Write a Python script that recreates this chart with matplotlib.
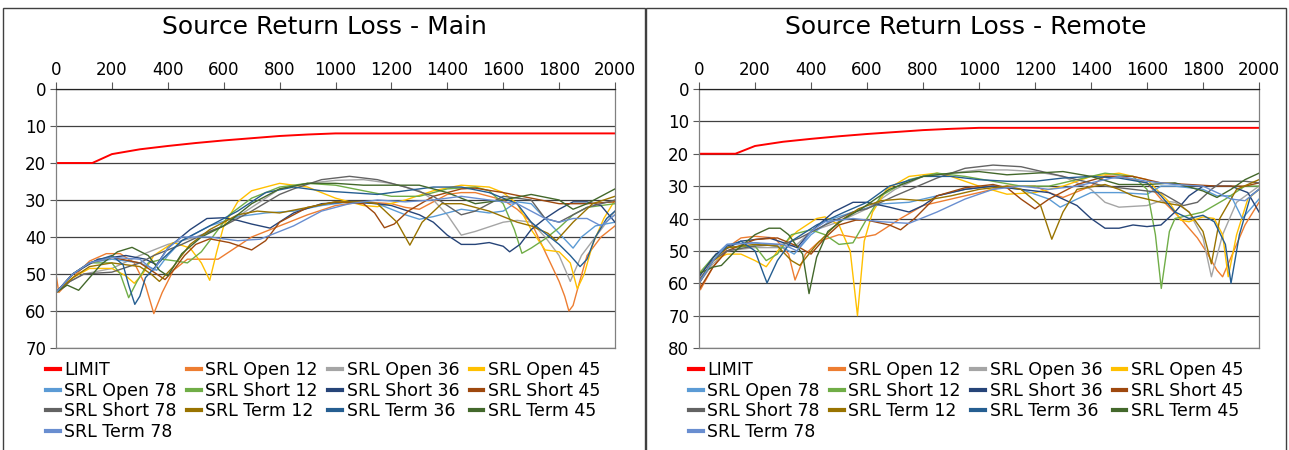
import matplotlib
matplotlib.use('Agg')
from matplotlib import pyplot as plt
from matplotlib.patches import Rectangle

# frequency (MHz), return loss (dB) pairs
LIMIT = [(0, 20), (130, 20), (200, 17.6), (300, 16.3), (400, 15.4), (500, 14.6), (600, 13.9),
         (700, 13.3), (800, 12.7), (900, 12.3), (1000, 12), (2000, 12)]

# ---- Main ----
M_OPEN12 = [(0, 50), (10, 55), (60, 51), (120, 46.5), (180, 44.5), (230, 44.5), (280, 47), (320, 53),
            (350, 60.7), (380, 55), (420, 49), (470, 46), (520, 46), (580, 46), (640, 43), (700, 40),
            (800, 37), (900, 34), (1000, 31.5), (1100, 30.5), (1200, 31), (1250, 32), (1300, 32.5),
            (1350, 30.5), (1400, 28.5), (1450, 28), (1500, 28), (1600, 30), (1650, 32.5), (1700, 36),
            (1750, 44), (1800, 52), (1820, 56), (1835, 60), (1850, 58.5), (1870, 53), (1900, 45),
            (1950, 40), (2000, 37)]
M_OPEN36 = [(0, 55), (50, 52), (100, 50), (200, 48.5), (300, 45), (400, 42), (500, 40), (600, 37),
            (700, 32), (800, 27), (900, 25.5), (1000, 24.7), (1100, 24.5), (1200, 25.5), (1300, 27.5),
            (1350, 30), (1400, 34), (1450, 39.5), (1500, 38.5), (1600, 36), (1650, 35.5), (1700, 36),
            (1750, 40), (1800, 45), (1840, 52), (1880, 45), (1950, 38), (2000, 33)]
M_OPEN45 = [(0, 55), (60, 51), (120, 48.5), (200, 48.5), (250, 50.5), (280, 52.5), (310, 50), (350, 45),
            (420, 41.5), (480, 43), (520, 47), (550, 51.7), (575, 44), (600, 37), (650, 30.5), (700, 27.5),
            (800, 25.5), (900, 26.5), (1000, 29.5), (1100, 31.5), (1150, 31.8), (1250, 30), (1350, 27.5),
            (1450, 26), (1550, 26.5), (1600, 28), (1650, 31), (1700, 38), (1750, 43.5), (1800, 44),
            (1840, 47), (1865, 54), (1890, 50), (1920, 42), (1960, 35), (2000, 30)]
M_OPEN78 = [(0, 55), (60, 50), (120, 47), (200, 46), (300, 47), (360, 49), (400, 45), (450, 41),
            (550, 37), (650, 34.5), (750, 33.5), (850, 33), (950, 31.5), (1050, 30.5), (1150, 31),
            (1250, 34), (1300, 35.2), (1350, 34.5), (1400, 33.5), (1450, 32.5), (1550, 33.5), (1600, 33),
            (1650, 30.5), (1700, 31), (1750, 35), (1800, 39), (1850, 43), (1880, 40), (1930, 37), (2000, 36)]
M_SHORT12 = [(0, 55), (60, 50), (120, 47), (200, 47), (230, 50), (260, 56.4), (290, 52), (330, 47),
             (380, 46), (430, 46.5), (470, 47), (520, 44), (570, 39), (620, 34), (700, 29.5), (800, 26.5),
             (900, 25.5), (1000, 26), (1100, 27.5), (1200, 29), (1300, 29), (1400, 27), (1500, 26.5),
             (1550, 27.5), (1600, 31), (1640, 38), (1667, 44.4), (1700, 43), (1750, 40.5), (1800, 37.5),
             (1850, 34), (1900, 32), (2000, 31)]
M_SHORT36 = [(0, 55), (60, 50), (150, 46), (250, 45), (320, 46), (360, 47.5), (400, 43), (480, 38),
             (540, 35), (600, 34.8), (650, 35.5), (700, 36.5), (766, 37.6), (850, 33.5), (950, 31),
             (1050, 30.5), (1150, 31), (1200, 31.5), (1300, 34), (1350, 36), (1400, 39.5), (1450, 42),
             (1500, 42), (1550, 41.5), (1600, 42.5), (1623, 44), (1660, 42), (1700, 38), (1750, 35),
             (1800, 32.5), (1850, 30.5), (1900, 30.5), (1950, 31.5), (2000, 36)]
M_SHORT45 = [(0, 55), (60, 50), (120, 47), (200, 45.5), (300, 47), (350, 49.5), (390, 51.5), (420, 49),
             (460, 45), (500, 42), (550, 40.5), (620, 41.5), (700, 43.5), (750, 41), (800, 36), (900, 32),
             (1000, 30.5), (1100, 31), (1140, 33.5), (1175, 37.5), (1210, 36.5), (1260, 33), (1350, 29),
             (1450, 27), (1500, 26.8), (1600, 28), (1700, 29.5), (1800, 31), (1900, 31), (2000, 30.5)]
M_SHORT78 = [(0, 55), (50, 52), (100, 50), (200, 49.5), (300, 47), (350, 45), (450, 42), (550, 38.5),
             (600, 37), (700, 33), (800, 28.5), (850, 27), (950, 24.5), (1050, 23.6), (1150, 24.5),
             (1250, 26.5), (1350, 29), (1400, 31.5), (1450, 34), (1500, 33), (1550, 31), (1600, 29),
             (1700, 30), (1750, 35), (1800, 36), (1850, 34), (1900, 32), (2000, 30)]
M_TERM12 = [(0, 55), (60, 51), (120, 48), (200, 47), (300, 48), (340, 50), (370, 52), (420, 48),
            (480, 42), (550, 38), (650, 34), (720, 33), (800, 33.5), (900, 32), (1000, 30.5), (1100, 30.5),
            (1150, 31), (1220, 36), (1266, 42.2), (1310, 36), (1380, 31), (1450, 31), (1500, 32),
            (1550, 33), (1650, 36), (1700, 37), (1760, 39), (1790, 41), (1850, 36), (1920, 31), (2000, 29)]
M_TERM36 = [(0, 55), (60, 50), (120, 47), (200, 45), (240, 47.5), (260, 53), (282, 58.2), (300, 56),
            (320, 51), (380, 46), (450, 41), (550, 37), (650, 33), (750, 28), (850, 26.5), (950, 27.5),
            (1050, 28), (1150, 28.5), (1250, 27.5), (1350, 26.5), (1450, 26.5), (1550, 28), (1650, 31),
            (1700, 36), (1750, 39), (1800, 42), (1840, 45), (1875, 48), (1900, 46), (1930, 40),
            (1970, 35), (2000, 33)]
M_TERM45 = [(0, 55), (40, 53), (81, 54.4), (120, 51), (160, 47.5), (220, 44), (272, 42.8), (330, 45),
            (370, 49), (400, 50.5), (450, 44.5), (520, 40), (600, 37), (700, 31), (800, 27), (900, 25.5),
            (1000, 25.5), (1100, 26), (1200, 26), (1300, 26), (1400, 28), (1500, 31), (1600, 30),
            (1700, 28.5), (1800, 30), (1850, 32.5), (1900, 31), (1950, 29), (2000, 27)]
M_TERM78 = [(0, 55), (60, 50), (120, 47), (200, 45.5), (300, 46), (350, 49), (400, 43), (450, 40),
            (550, 40), (650, 41), (730, 40.6), (850, 37), (950, 33), (1050, 31), (1150, 30), (1250, 30.5),
            (1350, 30), (1450, 29), (1550, 30), (1650, 31), (1750, 35), (1800, 36), (1850, 35),
            (1900, 35), (1950, 37), (2000, 34)]

# ---- Remote ----
R_OPEN12 = [(0, 51), (5, 62), (50, 55), (100, 49), (150, 46), (200, 45.5), (270, 46), (320, 51),
            (343, 59), (380, 51), (430, 47), (500, 45), (570, 46), (630, 45), (720, 40), (800, 36),
            (900, 34), (1000, 32), (1100, 30), (1200, 30), (1250, 32), (1300, 33.5), (1400, 30),
            (1450, 27), (1500, 27), (1600, 29), (1650, 34), (1720, 40), (1780, 46), (1810, 50),
            (1850, 56), (1870, 58), (1900, 52), (1950, 42), (2000, 35)]
R_OPEN36 = [(0, 60), (50, 54), (100, 50), (200, 49), (300, 49), (350, 48), (400, 44), (500, 41),
            (600, 37), (700, 31), (800, 27), (900, 26), (1000, 25), (1100, 25), (1200, 25.5), (1300, 27),
            (1400, 31), (1450, 35), (1500, 36.5), (1600, 36), (1650, 34.5), (1700, 35), (1750, 38),
            (1800, 46), (1830, 58), (1870, 45), (1920, 35), (2000, 30)]
R_OPEN45 = [(0, 57), (50, 53), (100, 51), (150, 51), (200, 53), (240, 54.9), (290, 49), (350, 44),
            (420, 40), (450, 39.5), (500, 42), (540, 50), (566, 70), (590, 47), (620, 38), (670, 31),
            (750, 27), (850, 26), (900, 27), (1000, 30), (1100, 32.5), (1200, 32), (1300, 30), (1400, 27),
            (1500, 26), (1600, 28), (1680, 35), (1720, 40.5), (1750, 41), (1800, 39.5), (1840, 40),
            (1870, 45), (1890, 58), (1920, 45), (1960, 34), (2000, 31)]
R_OPEN78 = [(0, 58), (50, 52), (100, 48), (200, 47.5), (300, 49), (340, 51), (400, 45), (480, 40),
            (550, 38), (650, 35.5), (750, 35), (850, 33), (950, 31), (1050, 30), (1150, 31), (1250, 34),
            (1290, 36.5), (1350, 34), (1400, 32), (1500, 32), (1600, 32.5), (1650, 30), (1700, 30),
            (1800, 31), (1850, 33), (1900, 33), (1940, 40), (2000, 34)]
R_SHORT12 = [(0, 57), (50, 52), (100, 49), (200, 48.5), (240, 53), (280, 51), (330, 45), (400, 43.5),
             (450, 45), (500, 48), (550, 47.5), (600, 40), (650, 33), (750, 28), (850, 26), (950, 27),
             (1050, 28.5), (1150, 30), (1250, 30), (1350, 28), (1450, 26), (1550, 27), (1600, 31),
             (1630, 45), (1651, 61.6), (1680, 44), (1700, 40), (1800, 38), (1880, 34), (1950, 30), (2000, 30)]
R_SHORT36 = [(0, 58), (60, 51), (150, 47), (250, 46), (320, 48), (350, 49), (400, 44), (480, 38),
             (550, 35), (600, 35), (680, 36.5), (750, 38), (800, 36), (850, 33), (950, 31), (1050, 30),
             (1150, 31), (1250, 32), (1350, 36), (1400, 40), (1450, 43), (1500, 43), (1550, 42),
             (1600, 42.5), (1650, 42), (1700, 38), (1750, 33), (1800, 30), (1900, 30), (1960, 32), (2000, 38)]
R_SHORT45 = [(0, 62), (50, 55), (100, 50), (200, 46.5), (280, 46), (350, 48.5), (400, 51), (450, 46),
             (500, 42), (560, 40.5), (600, 40.5), (680, 42), (720, 43.5), (770, 40), (850, 33), (950, 30.5),
             (1050, 29.5), (1100, 30.5), (1150, 34), (1200, 37), (1250, 34), (1350, 29.5), (1450, 27),
             (1550, 27), (1650, 29), (1750, 29.5), (1850, 30), (1950, 30), (2000, 29)]
R_SHORT78 = [(0, 59), (50, 53), (100, 50), (200, 48.5), (300, 48), (360, 46), (450, 42), (550, 38),
             (600, 37), (700, 33), (850, 27.5), (950, 24.5), (1050, 23.5), (1150, 24), (1250, 26),
             (1350, 28), (1450, 30), (1550, 31), (1650, 32), (1730, 36), (1780, 35), (1830, 31),
             (1870, 28.5), (1950, 28.5), (2000, 29)]
R_TERM12 = [(0, 60), (50, 53), (100, 49), (200, 48), (280, 48.5), (330, 53), (360, 54.5), (420, 48),
            (500, 41), (570, 37), (650, 34.5), (720, 34), (800, 34.5), (900, 33), (1000, 31), (1100, 30),
            (1150, 31), (1220, 36), (1260, 46.4), (1300, 38), (1350, 31), (1450, 29.5), (1500, 31),
            (1550, 33), (1650, 35), (1720, 36), (1750, 38), (1800, 44), (1830, 54), (1860, 40),
            (1920, 31), (2000, 28)]
R_TERM36 = [(0, 60), (50, 53), (100, 48.5), (150, 47), (200, 50), (230, 57), (243, 59.9), (280, 53),
            (330, 47), (420, 42), (520, 38), (600, 35), (680, 30), (800, 27), (900, 27), (1000, 28),
            (1100, 28.5), (1200, 28.5), (1300, 27.5), (1400, 27), (1500, 27.5), (1600, 29), (1650, 33),
            (1700, 38), (1750, 40), (1800, 39), (1840, 41), (1880, 48), (1900, 60), (1930, 45),
            (1970, 33), (2000, 31)]
R_TERM45 = [(0, 57), (50, 55), (80, 54.5), (130, 50), (200, 45), (250, 43), (290, 43), (320, 45),
            (370, 51), (393, 63.2), (420, 52), (460, 44), (520, 40), (580, 37), (680, 31), (800, 27),
            (900, 26), (1000, 25.5), (1100, 26.5), (1200, 26), (1300, 25.5), (1400, 27), (1500, 29.5),
            (1600, 29.5), (1700, 29), (1800, 31.5), (1850, 33.5), (1900, 31), (1950, 28), (2000, 26)]
R_TERM78 = [(0, 60), (50, 53), (100, 48), (200, 47.5), (300, 48), (350, 50), (400, 44), (450, 41),
            (550, 40), (650, 41), (750, 41.5), (850, 38), (950, 34), (1050, 31), (1150, 30), (1250, 31),
            (1350, 30), (1450, 28), (1500, 27), (1600, 28.5), (1700, 29.5), (1800, 30), (1850, 32),
            (1900, 34), (1950, 34.5), (2000, 31)]

NAMES = ['LIMIT', 'SRL Open 12', 'SRL Open 36', 'SRL Open 45', 'SRL Open 78',
         'SRL Short 12', 'SRL Short 36', 'SRL Short 45', 'SRL Short 78',
         'SRL Term 12', 'SRL Term 36', 'SRL Term 45', 'SRL Term 78']
COLORS = ['#FF0000', '#ED7D31', '#A5A5A5', '#FFC000', '#5B9BD5',
          '#70AD47', '#264478', '#9E480E', '#636363',
          '#997300', '#255E91', '#43682B', '#698ED0']
MAIN = [LIMIT, M_OPEN12, M_OPEN36, M_OPEN45, M_OPEN78, M_SHORT12, M_SHORT36, M_SHORT45,
        M_SHORT78, M_TERM12, M_TERM36, M_TERM45, M_TERM78]
REMOTE = [LIMIT, R_OPEN12, R_OPEN36, R_OPEN45, R_OPEN78, R_SHORT12, R_SHORT36, R_SHORT45,
          R_SHORT78, R_TERM12, R_TERM36, R_TERM45, R_TERM78]

W, H = 1289, 450


def px_box(x0, y0, x1, y1):
    # pixel box (top-left origin) -> figure fraction [left, bottom, width, height]
    return [x0 / W, 1 - y1 / H, (x1 - x0) / W, (y1 - y0) / H]


def panel(fig, frame, box, title, series, ymax):
    fig.add_artist(Rectangle((frame[0] / W, 1 - frame[3] / H), (frame[2] - frame[0]) / W,
                             (frame[3] - frame[1]) / H, transform=fig.transFigure,
                             fill=False, ec='#404040', lw=1.0))
    ax = fig.add_axes(px_box(*box))
    for name, color, pts in zip(NAMES, COLORS, series):
        f = [p[0] for p in pts]
        v = [p[1] for p in pts]
        ax.plot(f, v, color=color, lw=1.4 if name == 'LIMIT' else 1.0, label=name)
    ax.set_xlim(0, 2000)
    ax.set_ylim(ymax, 0)
    ax.set_xticks(range(0, 2001, 200))
    ax.set_yticks(range(0, ymax + 1, 10))
    ax.xaxis.tick_top()
    ax.tick_params(axis='x', direction='out', length=5, width=0.8, color='#595959',
                   labelsize=12, pad=2)
    ax.tick_params(axis='y', direction='out', length=4, width=0.8, color='#595959',
                   labelsize=12, pad=3)
    ax.grid(axis='y', color='#404040', lw=0.9)
    for s in ax.spines.values():
        s.set_color('#808080')
        s.set_linewidth(0.9)
    ax.spines['top'].set_color('#222222')
    ax.set_axisbelow(True)
    fig.text((frame[0] + frame[2]) / 2 / W, 1 - 27 / H, title, ha='center', va='center', fontsize=18)

    handles, labels = ax.get_legend_handles_labels()
    # matplotlib fills columns first: reorder so the rows read like the original
    order = [0, 4, 8, 12, 1, 5, 9, 2, 6, 10, 3, 7, 11]
    leg = fig.legend([handles[i] for i in order], [labels[i] for i in order],
                     ncols=4, loc='upper left',
                     bbox_to_anchor=((box[0] - 10) / W, 1 - 361 / H),
                     frameon=False, fontsize=12.5, handlelength=0.8, handletextpad=0.25,
                     columnspacing=0.6, labelspacing=0.15, borderpad=0, borderaxespad=0)
    for line in leg.get_lines():
        line.set_linewidth(3)
    return ax


fig = plt.figure(figsize=(W / 100, H / 100), dpi=100)
panel(fig, (3, 8, 645, 460), (56, 89, 615, 348), 'Source Return Loss - Main', MAIN, 70)
panel(fig, (646, 8, 1286, 460), (699, 89, 1259, 348), 'Source Return Loss - Remote', REMOTE, 80)
fig.savefig('out.png', dpi=100)
